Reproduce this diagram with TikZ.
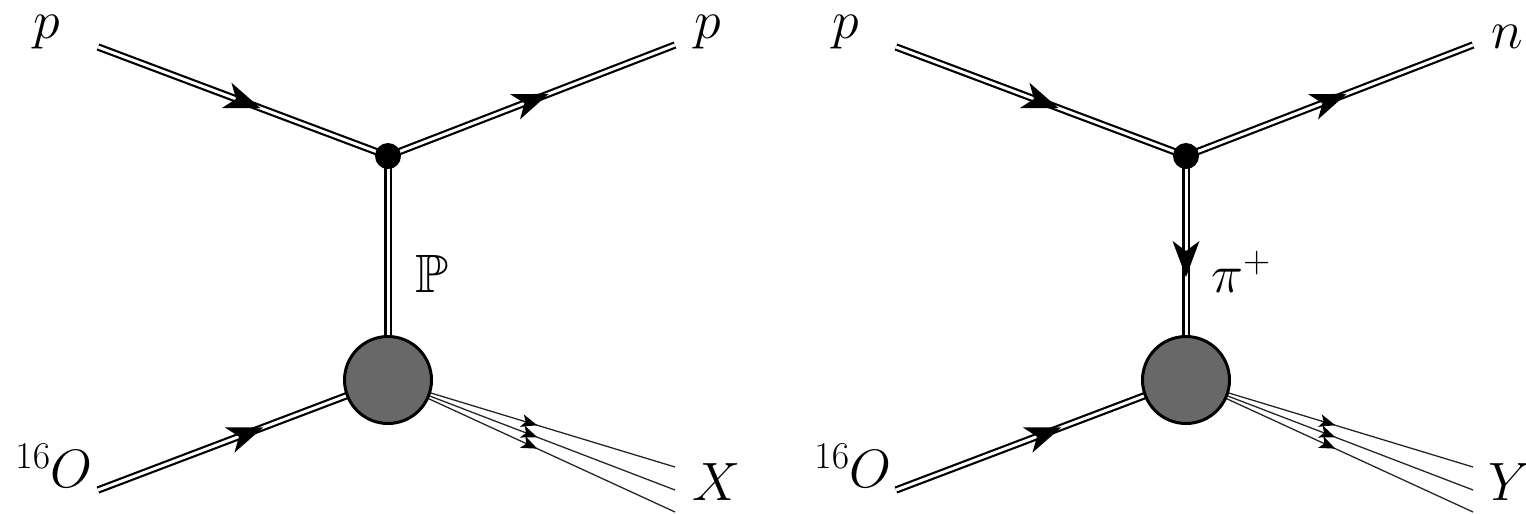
\RequirePackage{fix-cm}
\documentclass[tikz,border=0pt]{standalone}
\usepackage{amssymb}
\usetikzlibrary{decorations.markings}
\definecolor{blobgray}{RGB}{104,104,104}
\tikzset{
  fermion/.style={double, double distance=3pt, line width=2.2pt, draw=black},
  midarrow/.style={postaction={decorate, decoration={markings, mark=at position #1 with {\fill[black] (0pt,0pt) -- (-36pt,13.5pt) -- (-26pt,0pt) -- (-36pt,-13.5pt) -- cycle;}}}},
  thinline/.style={line width=1.3pt, draw=black!85},
  smallarrow/.style={postaction={decorate, decoration={markings, mark=at position #1 with {\fill[black] (0pt,0pt) -- (-16pt,6.5pt) -- (-12pt,0pt) -- (-16pt,-6.5pt) -- cycle;}}}},
  vertexdot/.style={circle, fill=black, minimum size=26pt, inner sep=0pt},
  blob/.style={circle, draw=black, line width=3pt, fill=blobgray, minimum size=87pt, inner sep=0pt},
  lbl/.style={inner sep=0pt, font=\fontsize{54}{62}\selectfont},
}
\begin{document}
\begin{tikzpicture}[x=1pt, y=-1pt]
\useasboundingbox (0,0) rectangle (1526,514);
% ---------- left diagram ----------
\coordinate (pinL) at (98,47);
\coordinate (poutL) at (675,45);
\coordinate (OinL) at (98,490);
\coordinate (vL) at (388,156);
\coordinate (bL) at (388,380);
\coordinate (x1L) at (675,467);
\coordinate (x2L) at (675,490);
\coordinate (x3L) at (675,512);
\draw[fermion, midarrow=0.56] (pinL) -- (vL);
\draw[fermion, midarrow=0.56] (vL) -- (poutL);
\draw[fermion, midarrow=0.57] (OinL) -- (bL);
\draw[fermion] (vL) -- (bL);
\draw[thinline, smallarrow=0.52] (bL) -- (x1L);
\draw[thinline, smallarrow=0.52] (bL) -- (x2L);
\draw[thinline, smallarrow=0.52] (bL) -- (x3L);
\node[vertexdot] (dotL) at (vL) {};
\node[blob] (blobL) at (bL) {};
\node[lbl] (lpL) at (47,32) {$p$};
\node[lbl] (rpL) at (708,32) {$p$};
\node[lbl] (OL) at (54,466) {$^{16}O$};
\node[lbl] (XL) at (717,482) {$X$};
\node[lbl, anchor=base west] (PL) at (415,292) {$\mathbb{P}$};
% ---------- right diagram ----------
\coordinate (pinR) at (896,47);
\coordinate (poutR) at (1473,45);
\coordinate (OinR) at (896,490);
\coordinate (vR) at (1186,156);
\coordinate (bR) at (1186,380);
\coordinate (x1R) at (1473,467);
\coordinate (x2R) at (1473,490);
\coordinate (x3R) at (1473,512);
\draw[fermion, midarrow=0.56] (pinR) -- (vR);
\draw[fermion, midarrow=0.56] (vR) -- (poutR);
\draw[fermion, midarrow=0.57] (OinR) -- (bR);
\draw[fermion, midarrow=0.54] (vR) -- (bR);
\draw[thinline, smallarrow=0.52] (bR) -- (x1R);
\draw[thinline, smallarrow=0.52] (bR) -- (x2R);
\draw[thinline, smallarrow=0.52] (bR) -- (x3R);
\node[vertexdot] (dotR) at (vR) {};
\node[blob] (blobR) at (bR) {};
\node[lbl] (lpR) at (846,32) {$p$};
\node[lbl] (rnR) at (1507,37) {$n$};
\node[lbl] (OR) at (853,466) {$^{16}O$};
\node[lbl] (YR) at (1510,482) {$Y$};
\node[lbl, anchor=base west] (piR) at (1211,292) {$\pi^{+}$};
\end{tikzpicture}
\end{document}
